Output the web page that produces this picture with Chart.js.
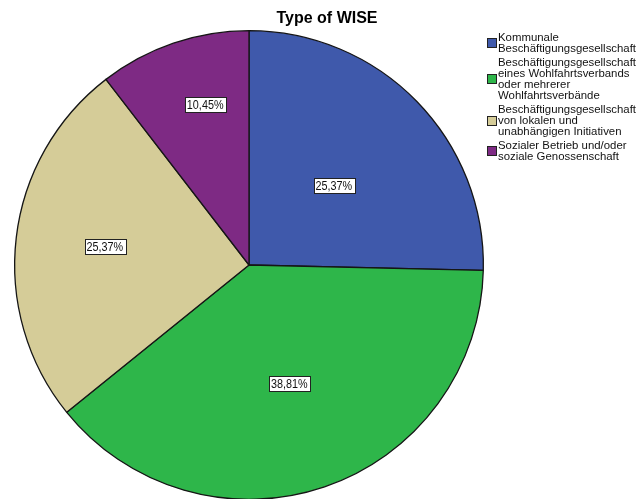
<!DOCTYPE html>
<html>
<head>
<meta charset="utf-8">
<script src="https://cdn.jsdelivr.net/npm/chart.js@4.4.1/dist/chart.umd.min.js"></script>
<style>
  html, body { margin: 0; padding: 0; background: #fff; overflow: hidden; }
  #wrap { position: relative; width: 641px; height: 499px; overflow: hidden; }
  canvas { position: absolute; left: 0; top: 0; }
</style>
</head>
<body>
<div id="wrap"><canvas id="piechart" width="641" height="501"></canvas></div>
<script>
var chartTitle = "Type of WISE";
var categories = [
  ["Kommunale", "Beschäftigungsgesellschaft"],
  ["Beschäftigungsgesellschaft", "eines Wohlfahrtsverbands", "oder mehrerer", "Wohlfahrtsverbände"],
  ["Beschäftigungsgesellschaft", "von lokalen und", "unabhängigen Initiativen"],
  ["Sozialer Betrieb und/oder", "soziale Genossenschaft"]
];
var percentValues = [25.37, 38.81, 25.37, 10.45];
var sliceColors = ["#3F59AB", "#2EB64A", "#D5CC98", "#7E2A84"];

// where SPSS put each value box, as a fraction of the radius from the centre
var labelOffsets = [[0.362, -0.340], [0.172, 0.506], [-0.615, -0.077], [-0.187, -0.685]];

function fmtPct(v) {
  return v.toFixed(2).replace(".", ",") + "%";
}

var extrasPlugin = {
  id: "extras",
  afterDatasetsDraw: function(chart) {
    var ctx = chart.ctx;
    var meta = chart.getDatasetMeta(0);
    ctx.save();
    // value boxes
    ctx.font = "12px 'Liberation Sans', Arial, sans-serif";
    ctx.textBaseline = "middle";
    ctx.textAlign = "center";
    meta.data.forEach(function(arc, i) {
      var r = arc.outerRadius;
      var x = arc.x + labelOffsets[i][0] * r;
      var y = arc.y + labelOffsets[i][1] * r;
      var txt = fmtPct(percentValues[i]);
      var sx = 0.9;
      var w = ctx.measureText(txt).width * sx + 4;
      var h = 15;
      ctx.fillStyle = "#fff";
      ctx.fillRect(Math.round(x - w / 2) + 0.5, Math.round(y - h / 2) + 0.5, Math.round(w), h);
      ctx.strokeStyle = "#222";
      ctx.lineWidth = 1;
      ctx.strokeRect(Math.round(x - w / 2) + 0.5, Math.round(y - h / 2) + 0.5, Math.round(w), h);
      ctx.save();
      ctx.translate(x, y + 1);
      ctx.scale(sx, 1);
      ctx.fillStyle = "#111";
      ctx.fillText(txt, 0, 0);
      ctx.restore();
    });

    // title
    ctx.font = "bold 16px 'Liberation Sans', Arial, sans-serif";
    ctx.textAlign = "center";
    ctx.textBaseline = "alphabetic";
    ctx.fillStyle = "#000";
    ctx.fillText(chartTitle, 327, 23);

    // legend
    ctx.font = "11.4px 'Liberation Sans', Arial, sans-serif";
    ctx.textAlign = "left";
    ctx.textBaseline = "middle";
    var y = 38;
    var lineH = 10.8;
    categories.forEach(function(lines, i) {
      var first = y;
      lines.forEach(function(line) {
        ctx.fillStyle = "#111";
        ctx.fillText(line, 498, y);
        y += lineH;
      });
      var last = y - lineH;
      var mid = (first + last) / 2;
      ctx.fillStyle = sliceColors[i];
      ctx.fillRect(487.5, Math.round(mid - 5) + 0.5, 9, 9);
      ctx.strokeStyle = "#222";
      ctx.strokeRect(487.5, Math.round(mid - 5) + 0.5, 9, 9);
      y += 3.5;
    });
    ctx.restore();
  }
};

var ctx = document.getElementById("piechart").getContext("2d");
var myChart = new Chart(ctx, {
  type: "pie",
  data: {
    labels: categories,
    datasets: [{
      data: percentValues,
      backgroundColor: sliceColors,
      borderColor: "#151515",
      borderWidth: 1.3
    }]
  },
  options: {
    responsive: false,
    animation: false,
    layout: {
      padding: { left: 14, right: 157, top: 30, bottom: 1 }
    },
    plugins: {
      legend: { display: false },
      title: { display: false },
      tooltip: { enabled: false }
    }
  },
  plugins: [extrasPlugin]
});
</script>
</body>
</html>
